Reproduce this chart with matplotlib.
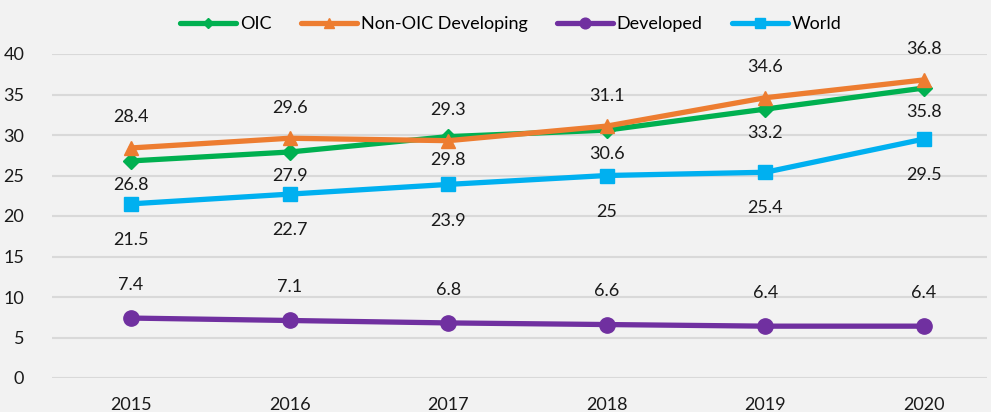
import matplotlib
matplotlib.use("Agg")
import matplotlib.pyplot as plt

years = ["2015", "2016", "2017", "2018", "2019", "2020"]
oic = [26.8, 27.9, 29.8, 30.6, 33.2, 35.8]
non_oic = [28.4, 29.6, 29.3, 31.1, 34.6, 36.8]
developed = [7.4, 7.1, 6.8, 6.6, 6.4, 6.4]
world = [21.5, 22.7, 23.9, 25, 25.4, 29.5]
yticks = [0, 5, 10, 15, 20, 25, 30, 35, 40]

plt.rcParams['font.family'] = ['Lato', 'DejaVu Sans']
W, H = 991, 412
fig = plt.figure(figsize=(W/100, H/100), dpi=100, facecolor='#f2f2f2')
ax = fig.add_axes([52/W, (H-378)/H, (987-52)/W, (378-54)/H], facecolor='#f2f2f2')

x = list(range(len(years)))
series = [
    ("OIC", oic, '#00b050', 'D', 8, -17),
    ("Non-OIC Developing", non_oic, '#ed7d31', '^', 10, 22),
    ("Developed", developed, '#7030a0', 'o', 11, 24),
    ("World", world, '#00b0f0', 's', 10, -26),
]
for name, vals, c, m, ms, off in series:
    ax.plot(x, vals, color=c, lw=3.8, marker=m, ms=ms, label=name, solid_capstyle='round')
    for xi, v in zip(x, vals):
        ax.annotate(f"{v:g}", (xi, v), xytext=(0, off), textcoords='offset points',
                    ha='center', va='center', fontsize=13, color='#1a1a1a')

ax.set_ylim(0, 40)
ax.set_xlim(-0.498, 5.397)
ax.set_yticks(yticks)
ax.set_xticks(x)
ax.set_xticklabels(years)
ax.grid(axis='y', color='#d9d9d9', lw=1.5)
ax.set_axisbelow(True)
for s in ax.spines.values():
    s.set_visible(False)
ax.tick_params(length=0, labelsize=13, labelcolor='#1a1a1a')
ax.tick_params(axis='y', pad=20)
ax.tick_params(axis='x', pad=14)

fig.legend(loc='center', bbox_to_anchor=(511/W, 1-24/H), ncol=4, frameon=False,
           fontsize=13, handlelength=3.1, handletextpad=0.2, columnspacing=1.65,
           markerscale=0.7)
fig.savefig("out.png", dpi=100, facecolor=fig.get_facecolor())
